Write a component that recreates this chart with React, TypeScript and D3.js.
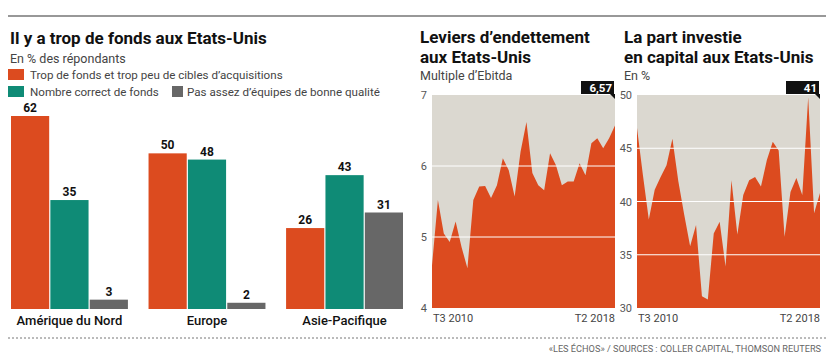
import React from "react";
import * as d3 from "d3";

const regions = ["Amérique du Nord", "Europe", "Asie-Pacifique"];
const seriesNames = [
  "Trop de fonds et trop peu de cibles d’acquisitions",
  "Nombre correct de fonds",
  "Pas assez d’équipes de bonne qualité",
];
const seriesColors = ["#dc4b1f", "#0f8b76", "#676767"];
const tooMuch = [62, 50, 26];
const correct = [35, 48, 43];
const notEnough = [3, 2, 31];

const leverage = [
  4.6, 5.52, 5.05, 4.93, 5.22, 4.86, 4.56, 5.52, 5.71, 5.72, 5.55, 5.73, 6.11, 5.94, 5.57, 6.2,
  6.62, 5.9, 5.73, 5.66, 6.18, 6.01, 5.73, 5.78, 5.78, 6.04, 5.87, 6.32, 6.39, 6.25, 6.39, 6.57,
];
const equity = [
  46.9, 42.5, 38.3, 41.1, 42.3, 43.4, 45.9, 41.9, 38.75, 35.8, 37.8, 31.1, 30.8, 37.0, 38.1, 33.9,
  42.0, 36.9, 40.6, 42.0, 42.3, 41.4, 43.9, 45.6, 44.8, 36.7, 40.9, 42.2, 40.6, 49.8, 38.9, 40.8,
];
const levTicks = [4, 5, 6, 7];
const eqTicks = [30, 35, 40, 45, 50];
const periodLabels = ["T3 2010", "T2 2018"];
const levLast = "6,57";
const eqLast = "41";

const FONT = "Roboto, 'Noto Sans', sans-serif";
const ORANGE = "#dc4b1f";
const BG = "#dbd8d0";

function AreaPanel(props: {
  data: number[];
  ticks: number[];
  x0: number;
  x1: number;
  y0: number;
  y1: number;
  label: string;
  tickX: number;
}) {
  const { data, ticks, x0, x1, y0, y1, label, tickX } = props;
  const x = d3.scaleLinear().domain([0, data.length - 1]).range([x0, x1]);
  const y = d3.scaleLinear().domain([ticks[0], ticks[ticks.length - 1]]).range([y1, y0]);
  const area = d3
    .area<number>()
    .x((_, i) => x(i))
    .y0(y1)
    .y1((d) => y(d));
  const lastX = x(data.length - 1);
  return (
    <g>
      <rect x={x0} y={y0} width={x1 - x0} height={y1 - y0} fill={BG} />
      <path d={area(data) || ""} fill={ORANGE} />
      {ticks.slice(1, -1).map((t) => (
        <line key={t} x1={x0} x2={x1} y1={y(t)} y2={y(t)} stroke="#fff" strokeWidth={1} />
      ))}
      {ticks.map((t) => (
        <text key={"l" + t} x={tickX} y={y(t) + 4} textAnchor="end" fontSize={11} fill="#555" fontFamily={FONT}>
          {t}
        </text>
      ))}
      <text x={x0 + 1} y={322} fontSize={11} fill="#444" fontFamily={FONT}>
        {periodLabels[0]}
      </text>
      <text x={x1} y={322} textAnchor="end" fontSize={11} fill="#444" fontFamily={FONT}>
        {periodLabels[1]}
      </text>
      <rect x={lastX - 34} y={81} width={33} height={13} fill="#111" />
      <path d={`M${lastX - 5},94 L${lastX},94 L${lastX},99 Z`} fill="#111" />
      <text x={lastX - 3} y={91.5} textAnchor="end" fontSize={11.5} fontWeight={700} fill="#fff" fontFamily={FONT}>
        {label}
      </text>
    </g>
  );
}

export default function App() {
  const seriesValues = [tooMuch, correct, notEnough];
  const gx = d3.scaleBand<string>().domain(regions).range([11, 403]).paddingInner(0.15).paddingOuter(0);
  const sx = d3
    .scaleBand<number>()
    .domain([0, 1, 2])
    .range([0, gx.bandwidth()])
    .paddingInner(0.03);
  const yb = d3.scaleLinear().domain([0, 62]).range([309, 116]);

  return (
    <svg width={834} height={360} style={{ position: "absolute", left: 0, top: 0, background: "#fff" }}>
      <line x1={8} x2={826} y1={16} y2={16} stroke="#333" strokeWidth={1.2} />

      {/* Left chart */}
      <text x={10} y={44} fontSize={17} fontWeight={700} fill="#111" fontFamily={FONT}>
        Il y a trop de fonds aux Etats-Unis
      </text>
      <text x={10} y={63} fontSize={12.5} fill="#444" fontFamily={FONT}>
        En % des répondants
      </text>
      <rect x={8} y={69} width={16} height={11} fill={seriesColors[0]} />
      <text x={30} y={78.5} fontSize={11.6} fill="#444" fontFamily={FONT}>
        {seriesNames[0]}
      </text>
      <rect x={8} y={86} width={16} height={11} fill={seriesColors[1]} />
      <text x={30} y={95.5} fontSize={11.6} fill="#444" fontFamily={FONT}>
        {seriesNames[1]}
      </text>
      <rect x={172} y={86} width={11} height={11} fill={seriesColors[2]} />
      <text x={187} y={95.5} fontSize={11.6} fill="#444" fontFamily={FONT}>
        {seriesNames[2]}
      </text>

      {regions.map((r, gi) => (
        <g key={r}>
          {seriesValues.map((vals, si) => {
            const bx = (gx(r) || 0) + (sx(si) || 0);
            const v = vals[gi];
            return (
              <g key={si}>
                <rect x={bx} y={yb(v)} width={sx.bandwidth()} height={yb(0) - yb(v)} fill={seriesColors[si]} />
                <text
                  x={bx + sx.bandwidth() / 2}
                  y={yb(v) - 4}
                  textAnchor="middle"
                  fontSize={12}
                  fontWeight={700}
                  fill="#111"
                  fontFamily={FONT}
                >
                  {v}
                </text>
              </g>
            );
          })}
          <text
            x={(gx(r) || 0) + gx.bandwidth() / 2}
            y={325}
            textAnchor="middle"
            fontSize={13}
            fontWeight={500}
            fill="#111"
            fontFamily={FONT}
          >
            {r}
          </text>
        </g>
      ))}

      {/* Middle chart */}
      <text x={420} y={43} fontSize={17} fontWeight={700} fill="#111" fontFamily={FONT}>
        Leviers d’endettement
      </text>
      <text x={420} y={63} fontSize={17} fontWeight={700} fill="#111" fontFamily={FONT}>
        aux Etats-Unis
      </text>
      <text x={420} y={80} fontSize={12.5} fill="#444" fontFamily={FONT}>
        Multiple d’Ebitda
      </text>
      <AreaPanel data={leverage} ticks={levTicks} x0={432} x1={615} y0={95} y1={308} label={levLast} tickX={427} />

      {/* Right chart */}
      <text x={624} y={43} fontSize={17} fontWeight={700} fill="#111" fontFamily={FONT}>
        La part investie
      </text>
      <text x={624} y={63} fontSize={17} fontWeight={700} fill="#111" fontFamily={FONT}>
        en capital aux Etats-Unis
      </text>
      <text x={624} y={80} fontSize={12.5} fill="#444" fontFamily={FONT}>
        En %
      </text>
      <AreaPanel data={equity} ticks={eqTicks} x0={637} x1={820} y0={95} y1={308} label={eqLast} tickX={632} />

      {/* Footer */}
      <line x1={8} x2={826} y1={338} y2={338} stroke="#777" strokeWidth={1} strokeDasharray="2,2" />
      <text x={821} y={352} textAnchor="end" fontSize={9.2} fill="#666" fontFamily={FONT}>
        «LES ÉCHOS» / SOURCES : COLLER CAPITAL, THOMSON REUTERS
      </text>
    </svg>
  );
}
